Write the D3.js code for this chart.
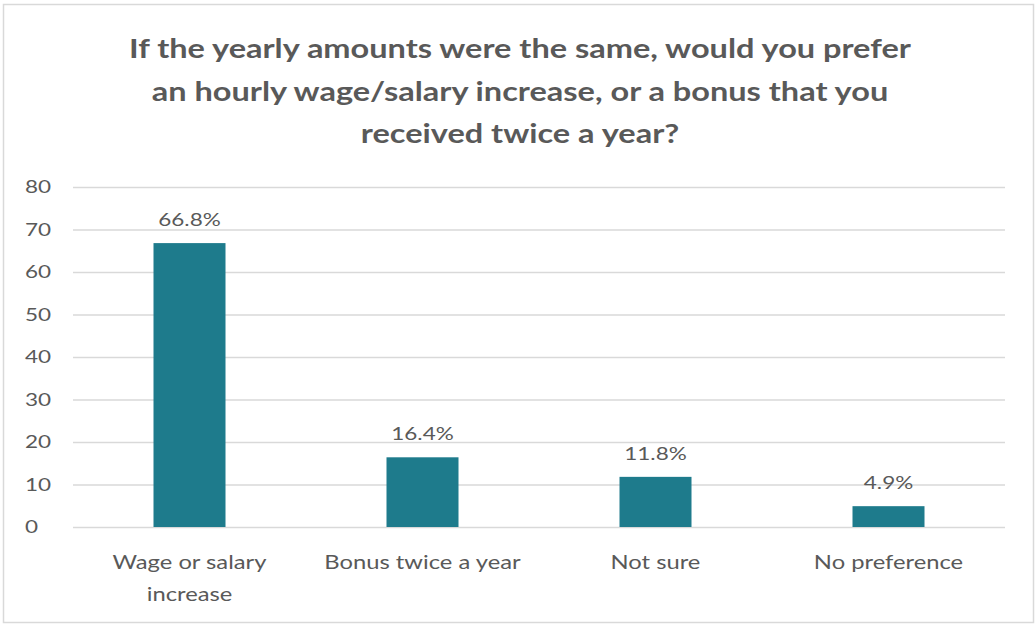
<!DOCTYPE html>
<html>
<head>
<meta charset="utf-8">
<script src="https://cdn.jsdelivr.net/npm/d3@7/dist/d3.min.js"></script>
<style>
  html, body { margin: 0; padding: 0; background: #ffffff; }
  svg { display: block; }
  text { font-family: Lato, "Open Sans", sans-serif; }
</style>
</head>
<body>
<svg id="chart" width="1036" height="625"></svg>
<script>
// Survey answers and their shares (%)
const categories = [["Wage or salary", "increase"], ["Bonus twice a year"], ["Not sure"], ["No preference"]];
const values = [66.8, 16.4, 11.8, 4.9];
const labels = ["66.8%", "16.4%", "11.8%", "4.9%"];
const yTicks = [0, 10, 20, 30, 40, 50, 60, 70, 80];
const titleLines = [
  "If the yearly amounts were the same, would you prefer",
  "an hourly wage/salary increase, or a bonus that you",
  "received twice a year?"
];

const W = 1036, H = 625;
const margin = { top: 187, right: 31, bottom: 98, left: 73 };
const plotW = W - margin.left - margin.right;
const plotH = H - margin.top - margin.bottom;
const textColor = "#595959";
const barColor = "#1e7b8c";
const stretch = 1.25; // wide lettering used throughout the chart

const svg = d3.select("#chart");

// chart frame
svg.append("rect")
  .attr("x", 3.5).attr("y", 4.5)
  .attr("width", 1030).attr("height", 618)
  .attr("fill", "#ffffff")
  .attr("stroke", "#d9d9d9")
  .attr("stroke-width", 1.5);

// title
svg.append("g")
  .selectAll("text")
  .data(titleLines)
  .join("text")
  .attr("transform", (d, i) => `translate(520,${58 + i * 42.5}) scale(${stretch},1)`)
  .attr("text-anchor", "middle")
  .attr("fill", textColor)
  .attr("font-size", 26)
  .attr("font-weight", 700)
  .text(d => d);

const g = svg.append("g").attr("transform", `translate(${margin.left},${margin.top})`);

const x = d3.scaleBand()
  .domain(categories.map((d, i) => i))
  .range([0, plotW])
  .padding(0);

const y = d3.scaleLinear().domain([0, 80]).range([plotH, 0]);

// y axis with gridlines
const yAxis = g.append("g")
  .call(d3.axisLeft(y).tickValues(yTicks).tickSize(-plotW));
yAxis.select(".domain").remove();
yAxis.selectAll(".tick line")
  .attr("stroke", "#d9d9d9")
  .attr("stroke-width", 1.5);
yAxis.selectAll(".tick text")
  .attr("x", 0)
  .attr("text-anchor", "start")
  .attr("transform", `translate(-48,0) scale(${stretch},1)`)
  .attr("fill", textColor)
  .attr("font-size", 18)
  .attr("font-family", "Lato, sans-serif");

// bars
const barW = 72;
g.selectAll("rect.bar")
  .data(values)
  .join("rect")
  .attr("class", "bar")
  .attr("x", (d, i) => x(i) + x.bandwidth() / 2 - barW / 2)
  .attr("y", d => y(d))
  .attr("width", barW)
  .attr("height", d => plotH - y(d))
  .attr("fill", barColor);

// value labels
g.selectAll("text.value")
  .data(values)
  .join("text")
  .attr("class", "value")
  .attr("transform", (d, i) => `translate(${x(i) + x.bandwidth() / 2},${y(d) - 17}) scale(${stretch},1)`)
  .attr("text-anchor", "middle")
  .attr("fill", textColor)
  .attr("font-size", 18)
  .text((d, i) => labels[i]);

// category labels
const cat = g.selectAll("text.cat")
  .data(categories)
  .join("text")
  .attr("class", "cat")
  .attr("transform", (d, i) => `translate(${x(i) + x.bandwidth() / 2},${plotH + 42}) scale(${stretch},1)`)
  .attr("text-anchor", "middle")
  .attr("fill", textColor)
  .attr("font-size", 19);
cat.selectAll("tspan")
  .data(d => d)
  .join("tspan")
  .attr("x", 0)
  .attr("dy", (d, j) => j === 0 ? 0 : 32)
  .text(d => d);
</script>
</body>
</html>
